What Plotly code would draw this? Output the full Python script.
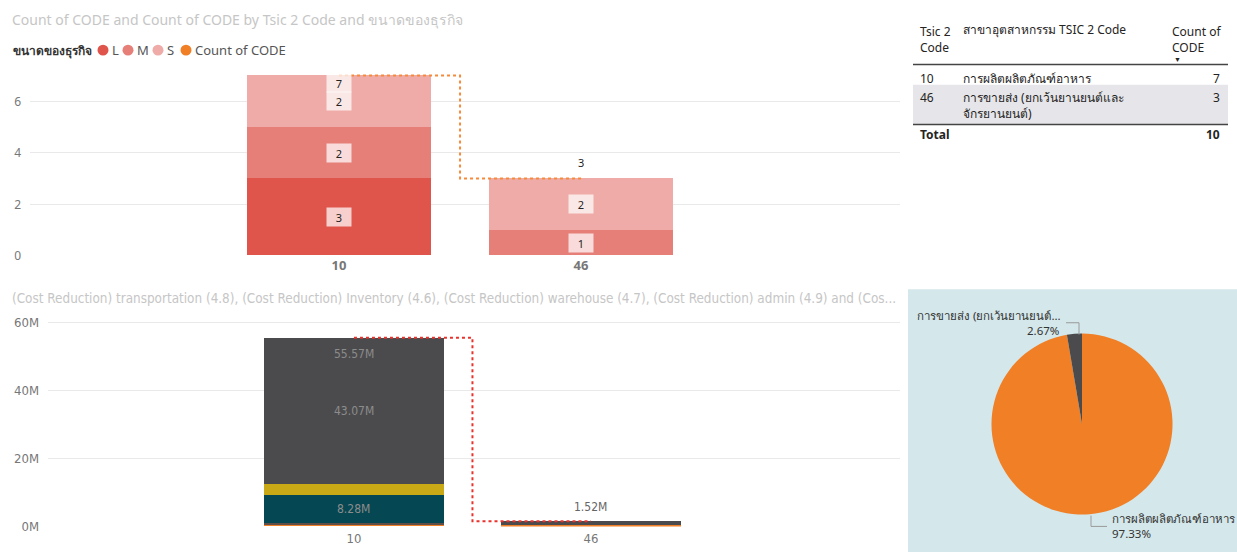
import plotly.graph_objects as go

W, H = 1237, 560
def px(x): return x / W
def py(y): return 1 - y / H

# ---------------- data ----------------
codes = ["10", "46"]
industry_names = ["การผลิตผลิตภัณฑ์อาหาร", "การขายส่ง (ยกเว้นยานยนต์และจักรยานยนต์)"]
industry_names_wrapped = ["การผลิตผลิตภัณฑ์อาหาร", "การขายส่ง (ยกเว้นยานยนต์และ<br>จักรยานยนต์)"]
industry_short = ["การผลิตผลิตภัณฑ์อาหาร", "การขายส่ง (ยกเว้นยานยนต์..."]

size_names = ["L", "M", "S"]
size_L = [3, 0]
size_M = [2, 1]
size_S = [2, 2]
count_code = [7, 3]

cost_names = ["(Cost Reduction) transportation (4.8)", "(Cost Reduction) Inventory (4.6)",
              "(Cost Reduction) warehouse (4.7)", "(Cost Reduction) admin (4.9)",
              "(Cost Reduction) other"]
cost_transport = [0.72, 0.5]
cost_inventory = [0.28, 0.02]
cost_warehouse = [8.28, 0.02]
cost_admin = [3.22, 0.02]
cost_other = [43.07, 0.964]
cost_total = [55.57, 1.524]

y1_ticks = [0, 2, 4, 6]
y2_ticks = [0, 20, 40, 60]
y2_ticktext = ["0M", "20M", "40M", "60M"]

# ---------------- styles ----------------
size_colors = ["#E0554B", "#E77F79", "#EEABA7"]
count_color = "#F07F26"
cost_colors = ["#F07F26", "#5E5049", "#054752", "#C9A916", "#4B4B4D"]
total_color = "#E8322C"
grid = "#E9E9E9"
FONT = "Segoe UI, Noto Sans, Open Sans, sans-serif"
CFONT = "Liberation Sans Narrow, DejaVu Sans Condensed, Roboto, sans-serif"

fig = go.Figure()
xs = list(range(len(codes)))

# ---- top chart ----
for name, vals, col in zip(size_names, [size_L, size_M, size_S], size_colors):
    fig.add_trace(go.Bar(x=xs, y=vals, name=name, marker_color=col, marker_line_width=0,
                         width=0.76, xaxis="x", yaxis="y", showlegend=False))
fig.add_trace(go.Scatter(x=xs, y=count_code, mode="lines", line=dict(color="#F58B3A", width=2, dash="dot", shape="hvh"),
                         xaxis="x", yaxis="y", showlegend=False))

# ---- bottom chart ----
for name, vals, col in zip(cost_names, [cost_transport, cost_inventory, cost_warehouse, cost_admin, cost_other], cost_colors):
    fig.add_trace(go.Bar(x=xs, y=vals, name=name, marker_color=col, marker_line_width=0,
                         width=0.76, xaxis="x2", yaxis="y2", showlegend=False))
fig.add_trace(go.Scatter(x=xs, y=cost_total, mode="lines", line=dict(color=total_color, width=2, dash="dot", shape="hvh"),
                         xaxis="x2", yaxis="y2", showlegend=False))

# ---- pie ----
pie_cx, pie_cy, pie_r = 1082, 430, 92
fig.add_trace(go.Pie(labels=industry_names, values=cost_total, sort=False, direction="clockwise", rotation=0,
                     marker=dict(colors=["#F07F26", "#4B4B4D"], line=dict(width=0)),
                     textinfo="none", showlegend=False, hole=0,
                     domain=dict(x=[px(pie_cx - pie_r), px(pie_cx + pie_r)], y=[py(pie_cy + pie_r), py(pie_cy - pie_r)])))

ann = []
shapes = []

# top bar labels
BOX = dict(font=dict(size=11, color="#252423", family=FONT), bgcolor="rgba(255,255,255,0.72)", width=22, height=16)
for i in xs:
    base = 0
    for vals in [size_L, size_M, size_S]:
        v = vals[i]
        if v > 0:
            ann.append(dict(x=i, y=base + v / 2, xref="x", yref="y", text=str(v), showarrow=False, **BOX))
        base += v
for i, v in enumerate(count_code):
    if v == max(count_code):
        ann.append(dict(x=i, y=v, xref="x", yref="y", text=str(v), showarrow=False, yshift=-7, **BOX))
    else:
        ann.append(dict(x=i, y=v, xref="x", yref="y", text=str(v), showarrow=False, yshift=16,
                        font=dict(size=11, color="#252423", family=FONT)))

# bottom bar labels
for i in xs:
    base = 0
    for vals in [cost_transport, cost_inventory, cost_warehouse, cost_admin, cost_other]:
        v = vals[i]
        if v > 5:
            ann.append(dict(x=i, y=base + v / 2, xref="x2", yref="y2", text=f"{v:.2f}M", showarrow=False,
                            font=dict(size=12, color="#8C8C8C", family=CFONT)))
        base += v
for i, v in enumerate(cost_total):
    if v == max(cost_total):
        ann.append(dict(x=i, y=v, xref="x2", yref="y2", text=f"{v:.2f}M", showarrow=False, yshift=-16,
                        font=dict(size=12, color="#8C8C8C", family=CFONT)))
    else:
        ann.append(dict(x=i, y=v, xref="x2", yref="y2", text=f"{v:.2f}M", showarrow=False, yshift=14,
                        font=dict(size=12, color="#666666", family=CFONT)))

# titles
ann.append(dict(x=px(10), y=py(19), xref="paper", yref="paper", xanchor="left", yanchor="middle", showarrow=False,
                text="Count of CODE and Count of CODE by Tsic 2 Code and ขนาดของธุรกิจ",
                font=dict(size=14, color="#C6C6C6", family=FONT)))
ann.append(dict(x=px(10), y=py(302), xref="paper", yref="paper", xanchor="left", yanchor="middle", showarrow=False,
                text="(Cost Reduction) transportation (4.8), (Cost Reduction) Inventory (4.6), (Cost Reduction) warehouse (4.7), (Cost Reduction) admin (4.9) and (Cos...",
                font=dict(size=13.4, color="#C6C6C6", family=CFONT)))

# legend (top)
ann.append(dict(x=px(11), y=py(50), xref="paper", yref="paper", xanchor="left", yanchor="middle", showarrow=False,
                text="<b>ขนาดของธุรกิจ</b>", font=dict(size=12, color="#333333", family=FONT)))
legend_items = list(zip(size_names + ["Count of CODE"], size_colors + [count_color], [103, 128, 158, 186]))
for lab, col, lx in legend_items:
    shapes.append(dict(type="circle", xref="paper", yref="paper", x0=px(lx - 5.5), x1=px(lx + 5.5),
                       y0=py(50 + 5.5), y1=py(50 - 5.5), fillcolor=col, line=dict(width=0)))
    ann.append(dict(x=px(lx + 6.5), y=py(50), xref="paper", yref="paper", xanchor="left", yanchor="middle",
                    showarrow=False, text=lab, font=dict(size=13, color="#555555", family=FONT)))

# table
TF = dict(size=12, color="#252423", family=FONT)
def tann(x, y, text, xanchor="left", yanchor="middle", font=TF):
    ann.append(dict(x=px(x), y=py(y), xref="paper", yref="paper", xanchor=xanchor, yanchor=yanchor,
                    showarrow=False, text=text, font=font, align=xanchor if xanchor != "center" else "center"))
tann(918, 20, "Tsic 2<br>Code", yanchor="top")
tann(961, 29, "สาขาอุตสาหกรรม TSIC 2 Code")
tann(1170, 20, "Count of<br>CODE", yanchor="top")
tann(1177, 59, "▼", xanchor="center", font=dict(size=7, color="#252423", family=FONT))
shapes.append(dict(type="line", xref="paper", yref="paper", x0=px(913), x1=px(1228), y0=py(64.5), y1=py(64.5),
                   line=dict(color="#444444", width=1.5)))
row_top = [66, 85]
row_h = [19, 40]
for i, (c, nm, cnt) in enumerate(zip(codes, industry_names_wrapped, count_code)):
    if i % 2 == 1:
        shapes.append(dict(type="rect", xref="paper", yref="paper", x0=px(913), x1=px(1228),
                           y0=py(row_top[i] + row_h[i]), y1=py(row_top[i]), fillcolor="#E6E6EA", line=dict(width=0), layer="below"))
    tann(918, row_top[i] + 2, c, yanchor="top")
    tann(961, row_top[i] + 2, nm, yanchor="top")
    tann(1222, row_top[i] + 2, str(cnt), xanchor="right", yanchor="top")
shapes.append(dict(type="line", xref="paper", yref="paper", x0=px(913), x1=px(1228), y0=py(125.5), y1=py(125.5),
                   line=dict(color="#444444", width=1.5)))
tann(918, 136, "<b>Total</b>")
tann(1222, 136, f"<b>{sum(count_code)}</b>", xanchor="right")

# pie panel background
shapes.append(dict(type="rect", xref="paper", yref="paper", x0=px(908), x1=px(1237), y0=py(560), y1=py(293),
                   fillcolor="#D4E7EA", line=dict(width=0), layer="below"))

# pie labels
total = sum(cost_total)
pct = [v / total * 100 for v in cost_total]
PF = dict(size=11.5, color="#333333", family=FONT)
ann.append(dict(x=px(1063), y=py(320), xref="paper", yref="paper", xanchor="right", yanchor="middle",
                showarrow=False, text=industry_short[1], font=PF))
ann.append(dict(x=px(1061), y=py(335), xref="paper", yref="paper", xanchor="right", yanchor="middle",
                showarrow=False, text=f"{pct[1]:.2f}%", font=PF))
ann.append(dict(x=px(1110), y=py(526), xref="paper", yref="paper", xanchor="left", yanchor="middle",
                showarrow=False, text=industry_short[0], font=PF))
ann.append(dict(x=px(1110), y=py(541), xref="paper", yref="paper", xanchor="left", yanchor="middle",
                showarrow=False, text=f"{pct[0]:.2f}%", font=PF))
LC = dict(color="#9A9A9A", width=1)
for (a, b, c, d) in [(1066, 327, 1079, 327), (1079, 327, 1079, 339), (1091, 523, 1091, 534), (1091, 534, 1107, 534)]:
    shapes.append(dict(type="line", xref="paper", yref="paper", x0=px(a), y0=py(b), x1=px(c), y1=py(d), line=LC))

# ---------------- layout ----------------
y1_scale = 26.17  # px per unit
y1_max = 7.2
y2_scale = 3.45
y2_max = 62

fig.update_layout(
    width=W, height=H, margin=dict(l=0, r=0, t=0, b=0),
    paper_bgcolor="white", plot_bgcolor="rgba(0,0,0,0)",
    barmode="stack", bargap=0,
    annotations=ann, shapes=shapes,
    font=dict(family=FONT),
    xaxis=dict(domain=[px(30), px(900)], range=[-1.277, 2.318], tickvals=xs, ticktext=codes,
               showgrid=False, zeroline=False, showline=False, ticks="",
               tickfont=dict(size=13, color="#777777", family=FONT, weight="bold"), anchor="y"),
    yaxis=dict(domain=[py(259), py(259 - y1_max * y1_scale)], range=[0, y1_max], tickvals=y1_ticks,
               showgrid=True, gridcolor=grid, gridwidth=1, zeroline=False, showline=False, ticks="",
               tickfont=dict(size=12, color="#777777", family=FONT), ticklabelstandoff=8, anchor="x"),
    xaxis2=dict(domain=[px(48), px(900)], range=[-1.291, 2.304], tickvals=xs, ticktext=codes,
                showgrid=False, zeroline=False, showline=False, ticks="", ticklabelstandoff=3,
                tickfont=dict(size=13, color="#777777", family=CFONT), anchor="y2"),
    yaxis2=dict(domain=[py(534), py(534 - y2_max * y2_scale)], range=[0, y2_max], tickvals=y2_ticks, ticktext=y2_ticktext,
                showgrid=True, gridcolor=grid, gridwidth=1, zeroline=False, showline=False, ticks="",
                tickfont=dict(size=13, color="#777777", family=CFONT), ticklabelstandoff=8, anchor="x2"),
)

nomargin = ("document.body.style.margin='0';document.body.style.padding='0';"
            "document.documentElement.style.margin='0';document.body.style.overflow='hidden';")
fig.write_html("out.html", post_script=nomargin)
